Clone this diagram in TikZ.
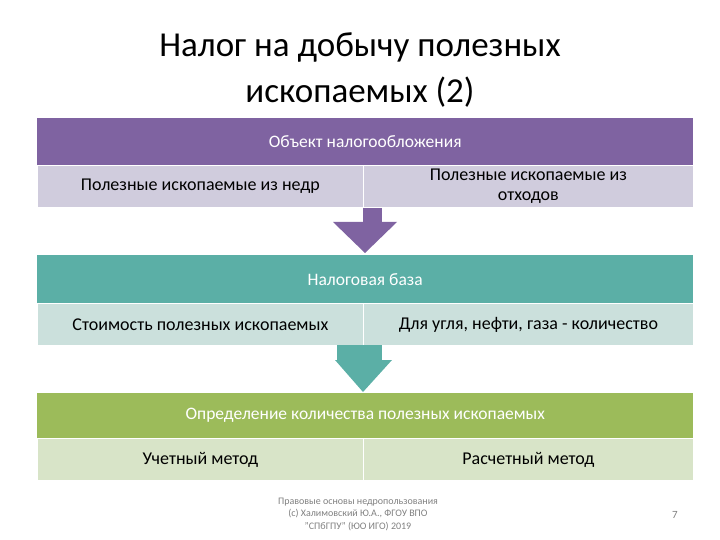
\documentclass[tikz,border=0pt]{standalone}
\usepackage{fontspec}
\setmainfont{Carlito}
\definecolor{pu}{HTML}{7F63A1}\definecolor{pul}{HTML}{D0CCDD}
\definecolor{te}{HTML}{5BAFA6}\definecolor{tel}{HTML}{CBE0DC}
\definecolor{gr}{HTML}{9CBB5A}\definecolor{grl}{HTML}{D8E4C8}
\begin{document}
\begin{tikzpicture}[x=1pt,y=-1pt,
 hdr/.style={fill=#1,draw=none,text=white,font=\fontsize{17.5}{20}\selectfont,align=center,anchor=north west,minimum width=656,minimum height=47,inner sep=0},
 cell/.style={fill=#1,draw=white,line width=0.8,font=\fontsize{18}{18}\selectfont,align=center,anchor=north west,minimum width=326,minimum height=42,inner sep=0},
 arr/.style={fill=#1,draw=none}]
\useasboundingbox (0,0) rectangle (720,540);
\node[font=\fontsize{35}{46}\selectfont,align=center] (title) at (360,70) {Налог на добычу полезных\\ископаемых (2)};
% block 1
\node[hdr=pu,minimum height=47] (h1) at (37,118) {Объект налогообложения};
\node[cell=pul] (c1a) at (37,165) {Полезные ископаемые из недр};
\node[cell=pul,minimum width=330,font=\fontsize{18}{20}\selectfont] (c1b) at (363,165) {Полезные ископаемые из\\отходов};
\fill[pu] (363,208) rectangle (382,222);
\fill[pu] (333,222) -- (397,222) -- (365,253) -- cycle;
% block 2
\node[hdr=te,minimum height=48] (h2) at (37,255) {Налоговая база};
\node[cell=tel] (c2a) at (37,303) {Стоимость полезных ископаемых};
\node[cell=tel,minimum width=330] (c2b) at (363,303) {Для угля, нефти, газа - количество};
\fill[te] (337,345) rectangle (382,360);
\fill[te] (335,360) -- (392,360) -- (363,392) -- cycle;
% block 3
\node[hdr=gr,minimum height=45] (h3) at (37,393) {Определение количества полезных ископаемых};
\node[cell=grl] (c3a) at (37,438) {Учетный метод};
\node[cell=grl,minimum width=330] (c3b) at (363,438) {Расчетный метод};
\node[font=\fontsize{10}{12.5}\selectfont,text=gray,align=center] (foot) at (358,514) {Правовые основы недропользования\\(с) Халимовский Ю.А., ФГОУ ВПО\\"СПбГПУ" (ЮО ИГО) 2019};
\node[font=\fontsize{11}{12}\selectfont,text=gray] (pg) at (675,515) {7};
\end{tikzpicture}
\end{document}
